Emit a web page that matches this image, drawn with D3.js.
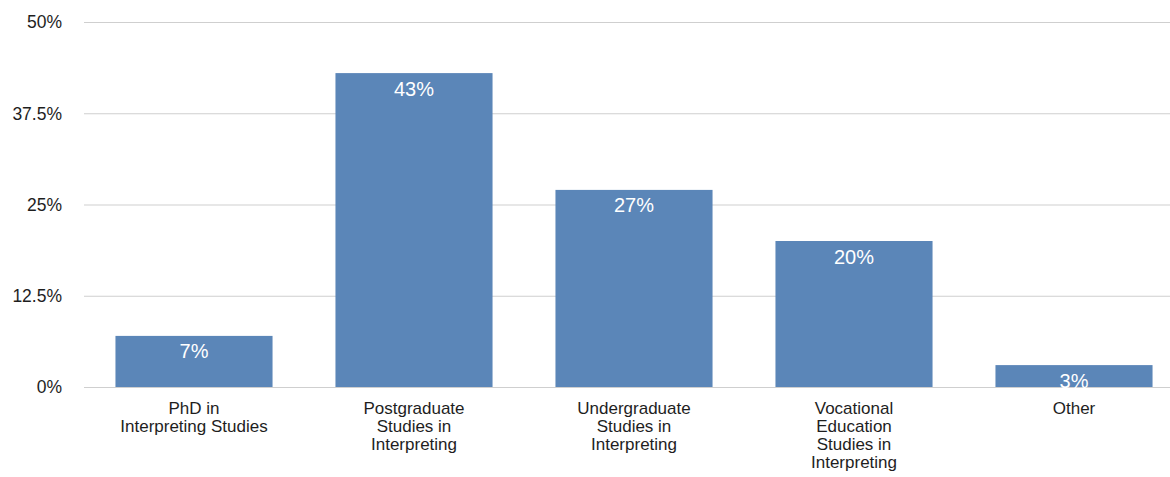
<!DOCTYPE html>
<html><head><meta charset="utf-8">
<script src="https://cdn.jsdelivr.net/npm/d3@7"></script>
<style>body{margin:0;background:#fff;} svg{display:block;font-family:"Liberation Sans",Arial,Helvetica,sans-serif;}</style>
</head><body><svg id="c" width="1170" height="477"></svg>
<script>
const categories = [["PhD in","Interpreting Studies"],["Postgraduate","Studies in","Interpreting"],["Undergraduate","Studies in","Interpreting"],["Vocational","Education","Studies in","Interpreting"],["Other"]];
const values = [7, 43, 27, 20, 3];
const valueLabels = ["7%","43%","27%","20%","3%"];
const tickValues = [0, 12.5, 25, 37.5, 50];
const tickLabels = ["0%","12.5%","25%","37.5%","50%"];

const svg = d3.select("#c");
const x = d3.scaleBand().domain(d3.range(values.length)).range([84, 1184]).paddingInner(0.286).paddingOuter(0.143);
const y = d3.scaleLinear().domain([0, 50]).range([387, 22]);

svg.append("g").selectAll("line").data(tickValues).join("line")
  .attr("x1", 84).attr("x2", 1170)
  .attr("y1", d => y(d)+0.5).attr("y2", d => y(d)+0.5)
  .attr("stroke", "#cfcfcf").attr("stroke-width", 1);

svg.append("g").selectAll("text").data(tickValues).join("text")
  .attr("x", 62).attr("y", d => y(d)).attr("dy", "0.36em")
  .attr("text-anchor", "end").attr("font-size", 17.5).attr("fill", "#1e1e1e")
  .text((d,i) => tickLabels[i]);

svg.append("g").selectAll("rect").data(values).join("rect")
  .attr("x", (d,i) => x(i)).attr("width", x.bandwidth())
  .attr("y", d => y(d)).attr("height", d => y(0) - y(d))
  .attr("fill", "#5b86b8");

svg.append("g").selectAll("text").data(values).join("text")
  .attr("x", (d,i) => x(i) + x.bandwidth()/2).attr("y", d => y(d) + 22.5)
  .attr("text-anchor", "middle").attr("font-size", 20).attr("fill", "#fff")
  .text((d,i) => valueLabels[i]);

const cat = svg.append("g").selectAll("text").data(categories).join("text")
  .attr("x", (d,i) => x(i) + x.bandwidth()/2).attr("y", 414)
  .attr("text-anchor", "middle").attr("font-size", 17).attr("fill", "#1e1e1e");
cat.each(function(d,i){
  d3.select(this).selectAll("tspan").data(d).join("tspan")
    .attr("x", x(i) + x.bandwidth()/2).attr("dy", (t,j) => j === 0 ? 0 : 18).text(t => t);
});
</script></body></html>
